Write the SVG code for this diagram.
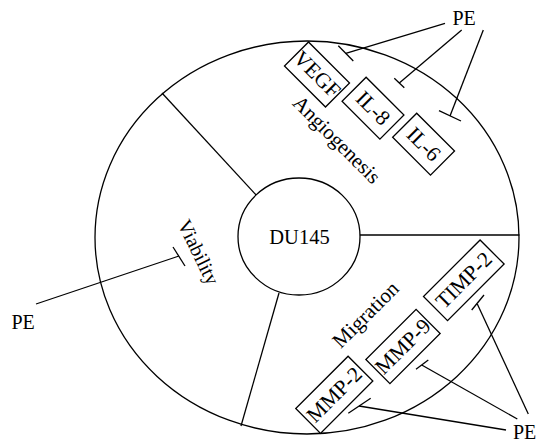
<svg xmlns="http://www.w3.org/2000/svg" width="537" height="443" viewBox="0 0 537 443">
<style>
.s{fill:none;stroke:#000;stroke-width:1.3}
.b{fill:#fff;stroke:#000;stroke-width:1.3}
text{font-family:"Liberation Serif","Times New Roman",serif;font-size:20px;fill:#000}
.m{text-anchor:middle}
.k{font-size:21.5px}
.l{font-size:21px}
</style>
<rect width="537" height="443" fill="#fff"/>
<g id="cell">
<ellipse class="s" cx="307" cy="237.5" rx="212" ry="196.5"/>
</g>
<g id="dividers">
<line class="s" x1="162" y1="93" x2="257" y2="196"/>
<line class="s" x1="360" y1="235" x2="519.5" y2="235"/>
<line class="s" x1="279" y1="293" x2="241" y2="426"/>
</g>
<g id="du145">
<ellipse class="b" cx="299" cy="236.5" rx="61" ry="58.5"/>
<text class="m" x="299.5" y="244" style="font-size:20.5px">DU145</text>
</g>
<g id="angiogenesis">
<text class="m l" transform="translate(335.5,141) rotate(45)" y="5">Angiogenesis</text>
</g>
<g id="vegf" transform="translate(317,74.5) rotate(45)">
<rect class="b" x="-29" y="-17" width="58" height="34"/>
<text class="m k" y="7">VEGF</text>
</g>
<g id="il8" transform="translate(373,108.2) rotate(45)">
<rect class="b" x="-26.75" y="-17" width="53.5" height="34"/>
<text class="m k" y="7">IL-8</text>
</g>
<g id="il6" transform="translate(423.6,144.2) rotate(45)">
<rect class="b" x="-26.75" y="-17" width="53.5" height="34"/>
<text class="m k" y="7">IL-6</text>
</g>
<g id="migration">
<text class="m l" transform="translate(367,316) rotate(-45)" y="5">Migration</text>
</g>
<g id="mmp2" transform="translate(334.3,394.8) rotate(-45)">
<rect class="b" x="-37" y="-17.5" width="74" height="35"/>
<text class="m k" y="7">MMP-2</text>
</g>
<g id="mmp9" transform="translate(403,346.5) rotate(-45)">
<rect class="b" x="-35.5" y="-17" width="71" height="34"/>
<text class="m k" y="7">MMP-9</text>
</g>
<g id="timp2" transform="translate(463.8,280.3) rotate(-45)">
<rect class="b" x="-40" y="-17" width="80" height="34"/>
<text class="m k" y="7">TIMP-2</text>
</g>
<g id="viability">
<text class="m" transform="translate(197,253) rotate(64)" y="5">Viability</text>
</g>
<g id="pe-top"><text x="452.5" y="25">PE</text></g>
<g id="pe-left"><text x="11.5" y="328.5">PE</text></g>
<g id="pe-bottom"><text x="513" y="439">PE</text></g>
<g id="connectors">
<line class="s" x1="445" y1="23.3" x2="345.8" y2="53.3"/>
<line class="s" x1="338.3" y1="45.7" x2="353.3" y2="61"/>
<line class="s" x1="461.7" y1="30" x2="399.3" y2="83"/>
<line class="s" x1="394.3" y1="78.3" x2="404.3" y2="87.7"/>
<line class="s" x1="483.3" y1="30" x2="450" y2="116"/>
<line class="s" x1="439" y1="110.7" x2="461" y2="121"/>
<line class="s" x1="36" y1="304" x2="179" y2="256"/>
<line class="s" x1="173" y1="247" x2="185" y2="266"/>
<line class="s" x1="506" y1="430" x2="359" y2="406"/>
<line class="s" x1="348.3" y1="413.3" x2="370.7" y2="398.3"/>
<line class="s" x1="517.3" y1="419" x2="421.7" y2="365"/>
<line class="s" x1="416" y1="369.3" x2="428.3" y2="360"/>
<line class="s" x1="528.3" y1="414" x2="477.3" y2="304"/>
<line class="s" x1="471.7" y1="310" x2="484" y2="295"/>
</g>
</svg>
